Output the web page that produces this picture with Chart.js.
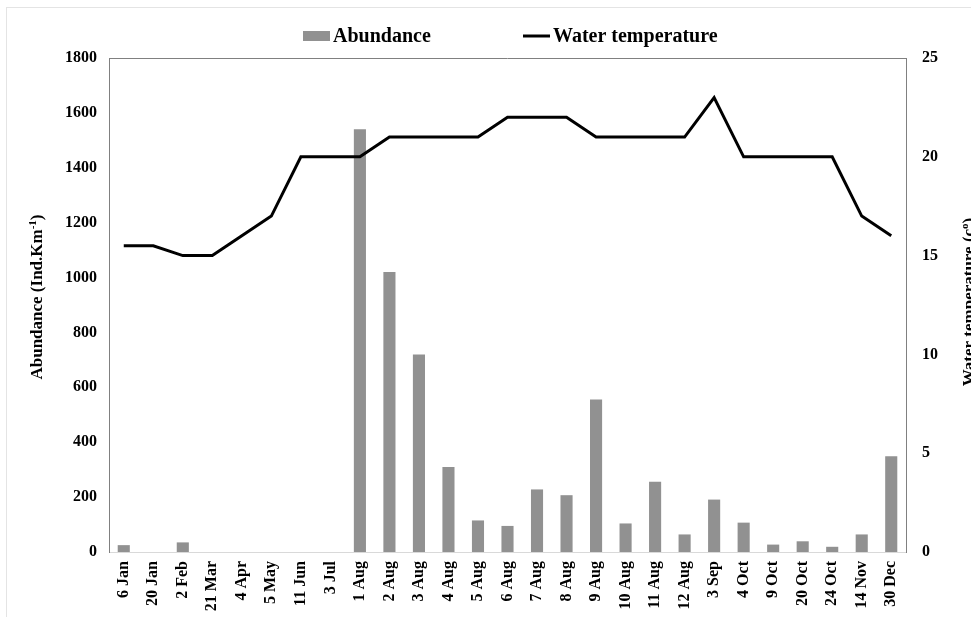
<!DOCTYPE html>
<html>
<head>
<meta charset="utf-8">
<script src="https://cdn.jsdelivr.net/npm/chart.js@4/dist/chart.umd.min.js"></script>
<style>
  html, body { margin: 0; padding: 0; background: #fff; }
  #wrap { width: 971px; height: 617px; }
</style>
</head>
<body>
<div id="wrap"><canvas id="myChart" width="971" height="617"></canvas></div>
<script>
const dates = ["6 Jan", "20 Jan", "2 Feb", "21 Mar", "4 Apr", "5 May", "11 Jun", "3 Jul",
  "1 Aug", "2 Aug", "3 Aug", "4 Aug", "5 Aug", "6 Aug", "7 Aug", "8 Aug", "9 Aug",
  "10 Aug", "11 Aug", "12 Aug", "3 Sep", "4 Oct", "9 Oct", "20 Oct", "24 Oct", "14 Nov", "30 Dec"];
const abundance = [25, 0, 35, 0, 0, 0, 0, 0, 1540, 1020, 720, 310, 115, 95, 228, 207, 556,
  104, 256, 64, 191, 107, 27, 39, 19, 64, 349];
const temperature = [15.5, 15.5, 15, 15, 16, 17, 20, 20, 20, 21, 21, 21, 21, 22, 22, 22, 21,
  21, 21, 21, 23, 20, 20, 20, 20, 17, 16];
const abundanceTicks = [0, 200, 400, 600, 800, 1000, 1200, 1400, 1600, 1800];
const tempTicks = [0, 5, 10, 15, 20, 25];

const FONT = "'Liberation Serif', 'Times New Roman', serif";
const BAR_GREY = "#919191";

// frame, legend and axis titles drawn straight on the canvas
const extras = {
  id: "extras",
  afterDraw(chart) {
    const { ctx, chartArea: a } = chart;
    ctx.save();
    // faint outer border
    ctx.strokeStyle = "#e4e4e4";
    ctx.lineWidth = 1;
    ctx.strokeRect(6.5, 7.5, 1000, 700);
    // plot box top
    ctx.strokeStyle = "#808080";
    ctx.beginPath();
    ctx.moveTo(a.left, a.top + 0.5);
    ctx.lineTo(a.right, a.top + 0.5);
    ctx.stroke();

    // legend
    const bars = chart.data.datasets.find(d => d.type === "bar");
    const line = chart.data.datasets.find(d => d.type === "line");
    ctx.font = "bold 20px " + FONT;
    ctx.textBaseline = "middle";
    ctx.fillStyle = BAR_GREY;
    ctx.fillRect(303, 31, 27, 10);
    ctx.fillStyle = "#000";
    ctx.fillText(bars.label, 333, 37);
    ctx.strokeStyle = "#000";
    ctx.lineWidth = 3;
    ctx.beginPath();
    ctx.moveTo(523, 36);
    ctx.lineTo(550, 36);
    ctx.stroke();
    ctx.fillText(line.label, 553, 37);

    // axis titles, both read bottom to top
    const cy = (a.top + a.bottom) / 2;
    drawTitle(ctx, 42, cy - 8, [["Abundance (Ind.Km", 0], ["-1", 1], [")", 0]]);
    drawTitle(ctx, 974, cy - 3, [["Water temperature (c", 0], ["o", 1], [")", 0]]);
    ctx.restore();
  }
};

function drawTitle(ctx, x, cy, parts) {
  const big = "bold 17px " + FONT, small = "bold 11px " + FONT;
  let total = 0;
  parts.forEach(p => { ctx.font = p[1] ? small : big; total += ctx.measureText(p[0]).width; });
  ctx.save();
  ctx.translate(x, cy);
  ctx.rotate(-Math.PI / 2);
  ctx.textAlign = "left";
  ctx.textBaseline = "alphabetic";
  ctx.fillStyle = "#000";
  let pos = -total / 2;
  parts.forEach(p => {
    ctx.font = p[1] ? small : big;
    ctx.fillText(p[0], pos, p[1] ? -6 : 0);
    pos += ctx.measureText(p[0]).width;
  });
  ctx.restore();
}

const plain = v => String(v);

const ctx = document.getElementById("myChart").getContext("2d");
new Chart(ctx, {
  data: {
    labels: dates,
    datasets: [
      {
        type: "line",
        label: "Water temperature",
        data: temperature,
        yAxisID: "yT",
        borderColor: "#000",
        borderWidth: 3,
        pointRadius: 0,
        tension: 0,
        order: 0
      },
      {
        type: "bar",
        label: "Abundance",
        data: abundance,
        yAxisID: "yA",
        backgroundColor: BAR_GREY,
        barPercentage: 0.41,
        categoryPercentage: 1,
        order: 1
      }
    ]
  },
  options: {
    responsive: false,
    animation: false,
    layout: { padding: { top: 58, left: 0, right: 0, bottom: 0 } },
    plugins: {
      legend: { display: false },
      tooltip: { enabled: false }
    },
    scales: {
      x: {
        grid: { display: false, drawTicks: false },
        border: { color: "#d9d9d9" },
        ticks: {
          autoSkip: false, maxRotation: 90, minRotation: 90, padding: 9,
          color: "#000", font: { family: FONT, size: 16, weight: "bold" }
        },
        afterFit: s => { s.height = 65; }
      },
      yA: {
        position: "left",
        min: 0, max: 1800,
        grid: { display: false, drawTicks: false },
        border: { color: "#808080" },
        afterBuildTicks: s => { s.ticks = abundanceTicks.map(v => ({ value: v })); },
        ticks: { padding: 12, color: "#000", callback: plain,
          font: { family: FONT, size: 16, weight: "bold" } },
        afterFit: s => { s.width = 109; }
      },
      yT: {
        position: "right",
        min: 0, max: 25,
        grid: { display: false, drawTicks: false },
        border: { color: "#808080" },
        afterBuildTicks: s => { s.ticks = tempTicks.map(v => ({ value: v })); },
        ticks: { padding: 16, color: "#000", callback: plain,
          font: { family: FONT, size: 16, weight: "bold" } },
        afterFit: s => { s.width = 65; }
      }
    }
  },
  plugins: [extras]
});
</script>
</body>
</html>
